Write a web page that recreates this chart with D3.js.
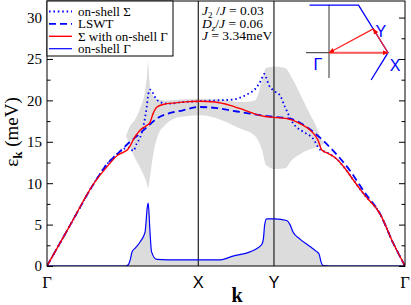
<!DOCTYPE html>
<html>
<head>
<meta charset="utf-8">
<script src="https://cdn.jsdelivr.net/npm/d3@7"></script>
<style>
body { margin: 0; background: #fff; }
svg { display: block; }
</style>
</head>
<body>
<div id="chart"></div>
<script>
const SERIF = "'Liberation Serif'";
const SANS = "'Liberation Sans'";

// k path: Γ -> X -> Y -> Γ  (|ΓX| = 1)
const kPoints = [0, 1, 1.5, 2.366];
const kLabels = ["Γ", "X", "Y", "Γ"];
const yTicks = [0, 5, 10, 15, 20, 25, 30];
const yMinor = [2.5, 7.5, 12.5, 17.5, 22.5, 27.5];

// [k, energy meV]
const lswt = [[0,0],[0.152,4.9],[0.311,10.0],[0.397,12.3],[0.469,13.6],[0.549,15.0],[0.595,15.7],
  [0.668,16.9],[0.734,17.9],[0.800,18.4],[0.899,18.8],[0.998,19.2],[1.110,19.1],[1.210,18.8],
  [1.342,18.4],[1.500,18.0],[1.606,17.8],[1.699,17.0],[1.804,15.5],[1.903,13.7],[2.003,11.5],
  [2.102,8.8],[2.201,6.3],[2.287,2.8],[2.366,0]];

const sigmaGamma = [[0,0],[0.152,4.9],[0.311,10.0],[0.397,12.0],[0.469,13.4],[0.516,13.85],[0.535,14.1],
  [0.555,14.7],[0.575,15.4],[0.615,16.4],[0.654,16.9],[0.681,17.35],[0.701,18.4],[0.727,19.2],
  [0.767,19.5],[0.846,19.7],[0.945,19.85],[1.011,19.9],[1.110,19.8],[1.210,19.4],[1.309,18.8],
  [1.395,18.25],[1.441,18.05],[1.500,17.95],[1.586,17.8],[1.672,17.2],[1.751,16.2],[1.791,15.2],
  [1.816,14.0],[1.857,13.6],[1.903,13.1],[1.981,11.5],[2.016,10.6],[2.102,8.5],[2.201,6.3],
  [2.287,2.8],[2.366,0]];

const onShellSigma = [[0,0],[0.152,4.9],[0.311,10.0],[0.397,12.3],[0.469,13.6],[0.516,14.2],[0.542,14.3],
  [0.570,13.9],[0.593,14.8],[0.615,15.5],[0.636,16.8],[0.659,19.2],[0.670,20.8],[0.681,21.3],
  [0.703,20.8],[0.714,20.4],[0.747,19.8],[0.802,19.6],[0.899,19.8],[1.011,19.9],[1.122,20.0],
  [1.229,20.1],[1.309,20.6],[1.386,21.6],[1.414,22.4],[1.436,23.2],[1.451,22.65],[1.463,22.0],
  [1.496,21.2],[1.540,20.6],[1.573,19.2],[1.628,17.2],[1.694,16.2],[1.758,15.4],[1.804,14.06],
  [1.837,13.8],[1.903,13.1],[1.981,11.5],[2.016,10.6],[2.102,8.5],[2.201,6.3],[2.287,2.8],[2.366,0]];

const onShellGamma = [[0,0],[0.52,0],[0.537,0.15],[0.552,0.9],[0.562,1.7],[0.585,2.2],[0.615,2.9],
  [0.648,4.1],[0.663,7.1],[0.669,7.6],[0.680,4.3],[0.691,1.7],[0.724,0.8],[0.80,0.75],[1.150,0.75],
  [1.229,1.2],[1.342,1.7],[1.395,2.2],[1.421,2.65],[1.431,3.4],[1.438,4.9],[1.451,5.7],[1.507,5.7],
  [1.584,5.5],[1.606,5.0],[1.626,4.1],[1.672,3.25],[1.738,2.35],[1.778,1.8],[1.798,1.45],
  [1.811,0.5],[1.824,0.05],[1.870,0],[2.366,0]];

// broadening band [k, low, high]
const band = [[0.522,15.7,15.7],[0.549,14.5,16.9],[0.582,13.0,17.7],[0.615,11.9,19.0],[0.648,10.6,21.2],
  [0.661,9.9,23.0],[0.668,9.4,24.6],[0.674,9.9,23.0],[0.687,11.6,21.0],[0.707,14.0,20.4],
  [0.734,15.8,20.1],[0.780,17.0,20.0],[0.879,18.0,20.1],[1.011,18.2,20.2],[1.143,17.7,20.1],
  [1.276,16.6,19.8],[1.375,15.7,20.0],[1.421,14.0,22.4],[1.447,12.2,23.9],[1.507,11.7,24.1],
  [1.573,11.8,23.9],[1.619,12.8,22.7],[1.672,13.5,20.8],[1.725,14.0,18.8],[1.778,14.3,16.9],
  [1.818,14.6,15.2],[1.831,14.8,14.8]];

const legendItems = [
  {name: "on-shell Σ", color: "#0000ff", dash: "1.6,2.8", w: 1.8},
  {name: "LSWT", color: "#0000ff", dash: "7,4", w: 1.8},
  {name: "Σ with on-shell Γ", color: "#ff0000", dash: null, w: 1.4},
  {name: "on-shell Γ", color: "#0000ff", dash: null, w: 1.2}
];

// inset: Brillouin zone, units of |ΓK|
const bzEdge = [[-0.33,0.866],[0.5,0.866],[1,0],[0.714,-0.496]];
const pathArrows = [[[0,0],[1,0]],[[1,0],[0.75,0.433]],[[0.75,0.433],[0,0]]];

const margin = {top: 1, right: 6, bottom: 39, left: 47};
const width = 411 - margin.left - margin.right;
const height = 305 - margin.top - margin.bottom;

const root = d3.select("#chart").append("svg")
  .attr("width", 411).attr("height", 305);
root.append("rect").attr("width", 411).attr("height", 305).attr("fill", "#fff");

const svg = root.append("g")
  .attr("transform", `translate(${margin.left},${margin.top})`);

const x = d3.scaleLinear().domain([0, 2.366]).range([0, width]);
const y = d3.scaleLinear().domain([0, 32]).range([height, 0]);

svg.append("clipPath").attr("id", "clip")
  .append("rect").attr("width", width).attr("height", height);
const plot = svg.append("g").attr("clip-path", "url(#clip)");

// gray band
plot.append("path")
  .datum(band)
  .attr("fill", "#dcdcdc")
  .attr("d", d3.area().x(d => x(d[0])).y0(d => y(d[1])).y1(d => y(d[2])).curve(d3.curveMonotoneX));

// gray under on-shell Γ
plot.append("path")
  .datum(onShellGamma)
  .attr("fill", "#dcdcdc")
  .attr("d", d3.area().x(d => x(d[0])).y0(y(0)).y1(d => y(d[1])).curve(d3.curveMonotoneX));

// high symmetry lines
plot.selectAll(".kline")
  .data(kPoints.slice(1, 3))
  .enter().append("line")
  .attr("x1", d => x(d)).attr("x2", d => x(d))
  .attr("y1", 0).attr("y2", height)
  .attr("stroke", "#222").attr("stroke-width", 1.2);

const line = d3.line().x(d => x(d[0])).y(d => y(d[1])).curve(d3.curveMonotoneX);

plot.append("path").datum(lswt)
  .attr("fill", "none").attr("stroke", "#0000ff").attr("stroke-width", 1.8)
  .attr("stroke-dasharray", "7,4").attr("d", line);

plot.append("path").datum(onShellSigma)
  .attr("fill", "none").attr("stroke", "#0000ff").attr("stroke-width", 1.8)
  .attr("stroke-dasharray", "1.6,2.8").attr("d", line);

plot.append("path").datum(sigmaGamma)
  .attr("fill", "none").attr("stroke", "#ff0000").attr("stroke-width", 1.4)
  .attr("d", line);

plot.append("path").datum(onShellGamma)
  .attr("fill", "none").attr("stroke", "#0000ff").attr("stroke-width", 1.2)
  .attr("d", line);

// axes (ticks point inward)
svg.append("g")
  .call(d3.axisLeft(y).tickValues(yTicks).tickSizeInner(-6).tickSizeOuter(0).tickPadding(5))
  .call(g => g.select(".domain").remove())
  .call(g => g.selectAll("text").style("font-family", SERIF).attr("font-size", 15).attr("fill", "#000"));
svg.append("g")
  .call(d3.axisLeft(y).tickValues(yMinor).tickSizeInner(-3.5).tickSizeOuter(0).tickFormat(""))
  .call(g => g.select(".domain").remove());
svg.append("g").attr("transform", `translate(${width},0)`)
  .call(d3.axisRight(y).tickValues(yTicks).tickSizeInner(-6).tickSizeOuter(0).tickFormat(""))
  .call(g => g.select(".domain").remove());
svg.append("g").attr("transform", `translate(${width},0)`)
  .call(d3.axisRight(y).tickValues(yMinor).tickSizeInner(-3.5).tickSizeOuter(0).tickFormat(""))
  .call(g => g.select(".domain").remove());

svg.append("rect")
  .attr("width", width).attr("height", height)
  .attr("fill", "none").attr("stroke", "#000").attr("stroke-width", 1);

// k labels
svg.selectAll(".klab")
  .data(kPoints)
  .enter().append("text")
  .style("font-family", (d, i) => kLabels[i] === "Γ" ? SERIF : SANS)
  .attr("x", d => x(d))
  .attr("y", height + 22)
  .attr("text-anchor", "middle")
  .attr("font-size", 16.5)
  .text((d, i) => kLabels[i]);

svg.append("text")
  .style("font-family", SERIF)
  .attr("x", 190).attr("y", height + 36)
  .attr("text-anchor", "middle")
  .attr("font-weight", "bold").attr("font-size", 20)
  .text("k");

const ylab = root.append("text")
  .style("font-family", SERIF)
  .attr("transform", "translate(18,132) rotate(-90)")
  .attr("text-anchor", "middle")
  .attr("font-size", 19);
ylab.append("tspan").text("ε");
ylab.append("tspan").attr("font-weight", "bold").attr("font-size", 13).attr("dy", 4).text("k");
ylab.append("tspan").attr("dy", -4).text(" (meV)");

// legend
const leg = svg.append("g");
leg.append("rect")
  .attr("x", 0).attr("y", 0).attr("width", 126).attr("height", 55)
  .attr("fill", "#fff").attr("stroke", "#000").attr("stroke-width", 1);
const rows = leg.selectAll(".row").data(legendItems).enter().append("g")
  .attr("transform", (d, i) => `translate(0,${10.5 + i * 12.4})`);
rows.append("line")
  .attr("x1", 2).attr("x2", 25).attr("y1", 0).attr("y2", 0)
  .attr("stroke", d => d.color).attr("stroke-width", d => d.w)
  .attr("stroke-dasharray", d => d.dash);
rows.append("text")
  .style("font-family", SERIF)
  .attr("x", 31).attr("y", 4.5)
  .attr("font-size", 13)
  .text(d => d.name);

// parameters
const par = svg.append("g").style("font-family", SERIF).attr("font-size", 13.5);
const t1 = par.append("text").attr("x", 155).attr("y", 14);
t1.append("tspan").attr("font-style", "italic").text("J");
t1.append("tspan").attr("font-size", 9).attr("dy", 3).text("2");
t1.append("tspan").attr("dy", -3).text(" /");
t1.append("tspan").attr("font-style", "italic").text("J");
t1.append("tspan").text(" = 0.03");
const t2 = par.append("text").attr("x", 155).attr("y", 26.5);
t2.append("tspan").attr("font-style", "italic").text("D");
t2.append("tspan").attr("font-style", "italic").attr("font-size", 9).attr("dy", 3).text("z");
t2.append("tspan").attr("dy", -3).text("/");
t2.append("tspan").attr("font-style", "italic").text("J");
t2.append("tspan").text(" = 0.06");
const t3 = par.append("text").attr("x", 155).attr("y", 39);
t3.append("tspan").attr("font-style", "italic").text("J");
t3.append("tspan").text(" = 3.34meV");

// inset
const ix = d3.scaleLinear().domain([0, 1]).range([329, 388]);
const iy = d3.scaleLinear().domain([0, 1]).range([52.7, -2.3]);
const inset = root.append("g");
inset.append("line").attr("x1", ix(-0.39)).attr("x2", ix(1)).attr("y1", iy(0)).attr("y2", iy(0))
  .attr("stroke", "#555").attr("stroke-width", 1.2);
inset.append("line").attr("x1", ix(0)).attr("x2", ix(0)).attr("y1", iy(0.87)).attr("y2", iy(-0.46))
  .attr("stroke", "#555").attr("stroke-width", 1.2);
inset.append("path").datum(bzEdge)
  .attr("fill", "none").attr("stroke", "#0000ff").attr("stroke-width", 1.3)
  .attr("d", d3.line().x(d => ix(d[0])).y(d => iy(d[1])));

root.append("defs").append("marker")
  .attr("id", "arr").attr("viewBox", "0 0 10 10").attr("refX", 9).attr("refY", 5)
  .attr("markerWidth", 6).attr("markerHeight", 6).attr("markerUnits", "userSpaceOnUse")
  .attr("orient", "auto")
  .append("path").attr("d", "M0,1 L10,5 L0,9 z").attr("fill", "#ff0000");
inset.selectAll(".arr").data(pathArrows).enter().append("line")
  .attr("x1", d => ix(d[0][0])).attr("y1", d => iy(d[0][1]))
  .attr("x2", d => ix(d[1][0])).attr("y2", d => iy(d[1][1]))
  .attr("stroke", (d, i) => i === 0 ? "#ff5a5a" : "#ff2020")
  .attr("stroke-width", (d, i) => i === 0 ? 2 : 1.2)
  .attr("marker-end", "url(#arr)");

const bzLabels = [["Γ", -0.19, -0.21], ["Y", 0.88, 0.40], ["X", 1.12, -0.22]];
inset.selectAll(".bzl").data(bzLabels).enter().append("text")
  .style("font-family", SANS)
  .attr("x", d => ix(d[1])).attr("y", d => iy(d[2]) + 6)
  .attr("text-anchor", "middle")
  .attr("font-size", 16)
  .attr("fill", "#0000ff")
  .text(d => d[0]);
</script>
</body>
</html>
